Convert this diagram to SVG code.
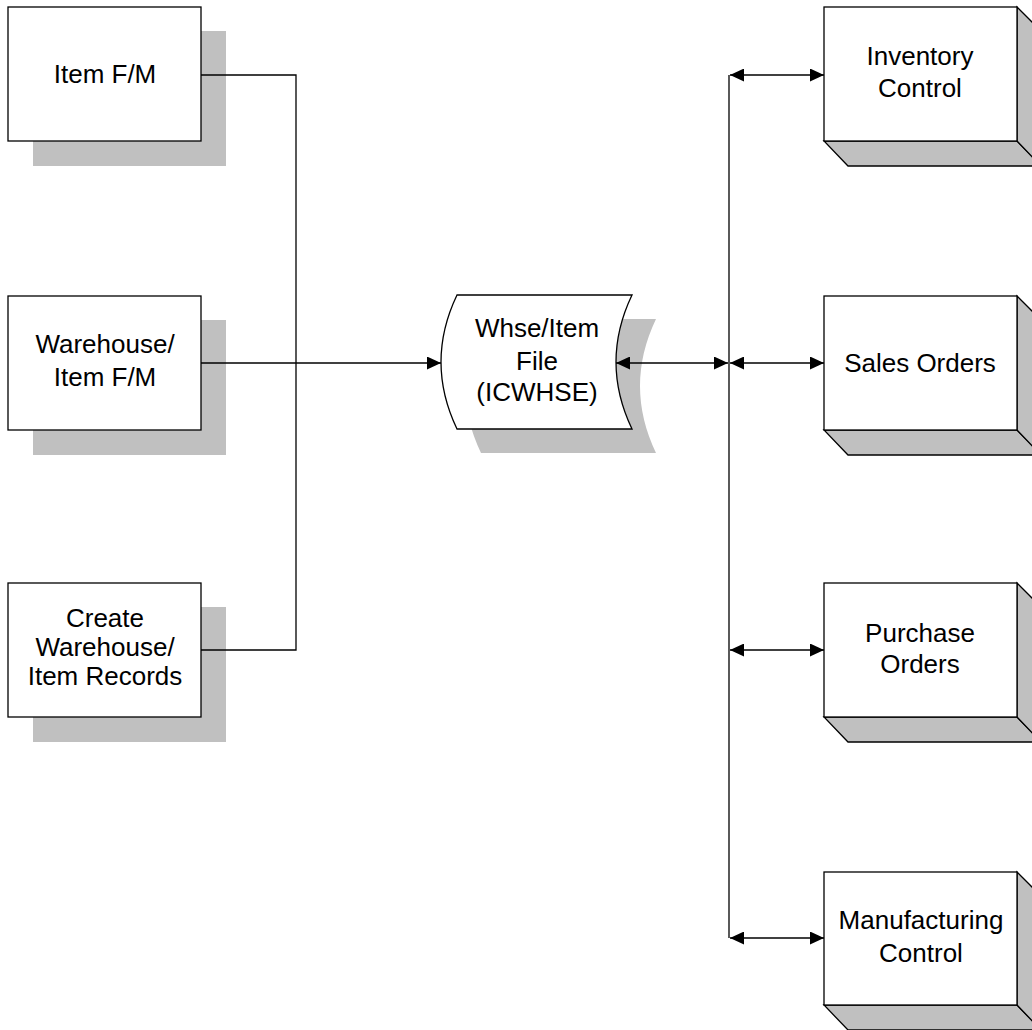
<svg xmlns="http://www.w3.org/2000/svg" width="1032" height="1030" viewBox="0 0 1032 1030">
<style>
.box{fill:#fff;stroke:#000;stroke-width:1.3}
.shadow{fill:#c0c0c0;stroke:none}
.side{fill:#c0c0c0;stroke:#000;stroke-width:1.3}
.lbl{font-family:"Liberation Sans",Arial,sans-serif;font-size:26px;fill:#000;text-anchor:middle}
.ln{fill:none;stroke:#000;stroke-width:1.3}
</style>
<defs>
<marker id="ah" viewBox="0 0 14 13" refX="14" refY="6.5" markerWidth="14" markerHeight="13" markerUnits="userSpaceOnUse" orient="auto-start-reverse">
<path d="M0,0 L14,6.5 L0,13 Z" fill="#000"/>
</marker>
</defs>
<rect width="1032" height="1030" fill="#fff"/>

<g id="item-fm">
<rect class="shadow" x="33" y="31" width="193" height="135"/>
<rect class="box" x="8" y="7" width="193" height="134"/>
<text class="lbl" x="105" y="83">Item F/M</text>
</g>

<g id="warehouse-item-fm">
<rect class="shadow" x="33" y="320" width="193" height="135"/>
<rect class="box" x="8" y="296" width="193" height="134"/>
<text class="lbl" x="105" y="353">Warehouse/</text>
<text class="lbl" x="105" y="386">Item F/M</text>
</g>

<g id="create-records">
<rect class="shadow" x="33" y="607" width="193" height="135"/>
<rect class="box" x="8" y="583" width="193" height="134"/>
<text class="lbl" x="105" y="627">Create</text>
<text class="lbl" x="105" y="656">Warehouse/</text>
<text class="lbl" x="105" y="685">Item Records</text>
</g>

<g id="whse-item-file">
<path class="shadow" d="M481,319 L656,319 Q624,386 656,453 L481,453 Q449,386 481,319 Z"/>
<path class="box" d="M457,295 L632,295 Q600,362 632,429 L457,429 Q425,362 457,295 Z"/>
<text class="lbl" x="537" y="337">Whse/Item</text>
<text class="lbl" x="537" y="370">File</text>
<text class="lbl" x="537" y="401">(ICWHSE)</text>
</g>

<g id="inventory-control">
<polygon class="side" points="824,141 1017,141 1041,166 848,166"/>
<polygon class="side" points="1017,7 1041,31 1041,166 1017,141"/>
<rect class="box" x="824" y="7" width="193" height="134"/>
<text class="lbl" x="920" y="65">Inventory</text>
<text class="lbl" x="920" y="97">Control</text>
</g>

<g id="sales-orders">
<polygon class="side" points="824,430 1017,430 1041,455 848,455"/>
<polygon class="side" points="1017,296 1041,320 1041,455 1017,430"/>
<rect class="box" x="824" y="296" width="193" height="134"/>
<text class="lbl" x="920" y="372">Sales Orders</text>
</g>

<g id="purchase-orders">
<polygon class="side" points="824,717 1017,717 1041,742 848,742"/>
<polygon class="side" points="1017,583 1041,607 1041,742 1017,717"/>
<rect class="box" x="824" y="583" width="193" height="134"/>
<text class="lbl" x="920" y="642">Purchase</text>
<text class="lbl" x="920" y="673">Orders</text>
</g>

<g id="manufacturing-control">
<polygon class="side" points="824,1005 1017,1005 1041,1030 848,1030"/>
<polygon class="side" points="1017,872 1041,896 1041,1030 1017,1005"/>
<rect class="box" x="824" y="872" width="193" height="133"/>
<text class="lbl" x="921" y="929">Manufacturing</text>
<text class="lbl" x="921" y="962">Control</text>
</g>

<g id="connectors">
<polyline class="ln" points="201,75 296,75 296,650 201,650"/>
<line class="ln" x1="201" y1="363" x2="441" y2="363" marker-end="url(#ah)"/>
<line class="ln" x1="616" y1="363" x2="728" y2="363" marker-start="url(#ah)" marker-end="url(#ah)"/>
<line class="ln" x1="729" y1="75" x2="729" y2="938"/>
<line class="ln" x1="730" y1="75" x2="824" y2="75" marker-start="url(#ah)" marker-end="url(#ah)"/>
<line class="ln" x1="730" y1="363" x2="824" y2="363" marker-start="url(#ah)" marker-end="url(#ah)"/>
<line class="ln" x1="730" y1="650" x2="824" y2="650" marker-start="url(#ah)" marker-end="url(#ah)"/>
<line class="ln" x1="730" y1="938" x2="824" y2="938" marker-start="url(#ah)" marker-end="url(#ah)"/>
</g>
</svg>
